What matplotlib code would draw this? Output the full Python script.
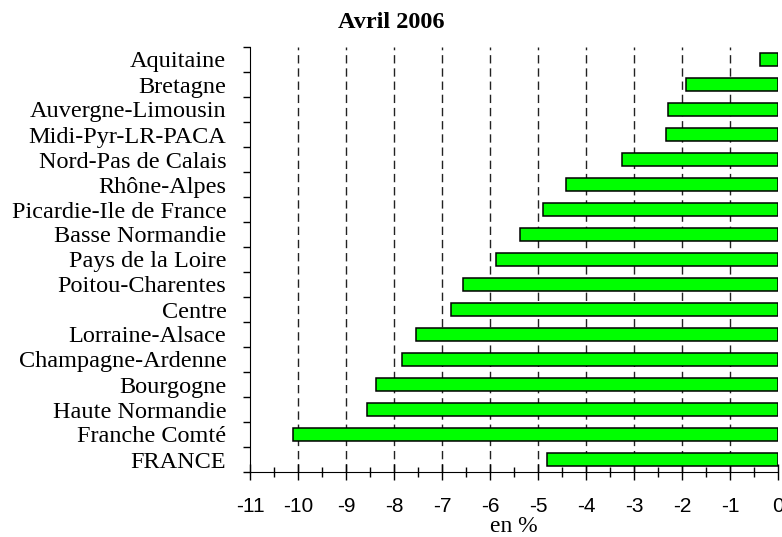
import numpy as np
import matplotlib
matplotlib.use("Agg")
import matplotlib.pyplot as plt
from matplotlib.ticker import MultipleLocator

# regions, top to bottom as in the chart
regions = ["Aquitaine", "Bretagne", "Auvergne-Limousin", "Midi-Pyr-LR-PACA",
           "Nord-Pas de Calais", "Rhône-Alpes", "Picardie-Ile de France",
           "Basse Normandie", "Pays de la Loire", "Poitou-Charentes", "Centre",
           "Lorraine-Alsace", "Champagne-Ardenne", "Bourgogne", "Haute Normandie",
           "Franche Comté", "FRANCE"]
values = [-0.37, -1.92, -2.29, -2.34, -3.24, -4.41, -4.89, -5.38, -5.87,
          -6.56, -6.81, -7.54, -7.84, -8.38, -8.56, -10.10, -4.81]
xticks = list(range(-11, 1))

serif = ["Liberation Serif", "DejaVu Serif"]
sans = ["Liberation Sans", "DejaVu Sans"]

fig = plt.figure(figsize=(7.82, 5.37), dpi=100)
ax = fig.add_axes([250 / 782, 1 - 472 / 537, 528 / 782, 425 / 537])

y = np.arange(len(regions))[::-1]

# dashed vertical grid behind the bars
for t in xticks[1:-1]:
    ax.axvline(t, color="#222222", lw=1, ls=(0, (6, 3.5)), zorder=1)

ax.barh(y, values, height=0.55, color="#00ff00", edgecolor="black", lw=1.1, zorder=2)

ax.set_xlim(-11, 0)
ax.set_ylim(-0.5, len(regions) - 0.5)

ax.set_xticks(xticks)
ax.set_xticklabels([str(t) for t in xticks], fontfamily=sans, fontsize=15)
ax.xaxis.set_minor_locator(MultipleLocator(0.5))
ax.tick_params(axis="x", which="major", direction="inout", length=11.5, width=1, pad=12)
ax.tick_params(axis="x", which="minor", direction="inout", length=7, width=1)

# category labels sit between the boundary ticks
ax.set_yticks(np.arange(-0.5, len(regions), 1.0))
ax.set_yticklabels([])
ax.set_yticks(y, labels=regions, minor=True)
ax.tick_params(axis="y", which="major", direction="out", length=5, width=1)
ax.tick_params(axis="y", which="minor", length=0, pad=17)
for lab in ax.get_yticklabels(minor=True):
    lab.set_fontfamily(serif)
    lab.set_fontsize(17.5)

for s in ["top", "right"]:
    ax.spines[s].set_visible(False)

ax.set_xlabel("en %", fontfamily=serif, fontsize=17, labelpad=0.5)
# title is centred on the whole figure, not on the axes
fig.text(0.5, 1 - 22 / 537, "Avril 2006", ha="center", va="center",
         fontfamily=serif, fontsize=17.5, fontweight="bold")

fig.savefig("out.png", dpi=100)
